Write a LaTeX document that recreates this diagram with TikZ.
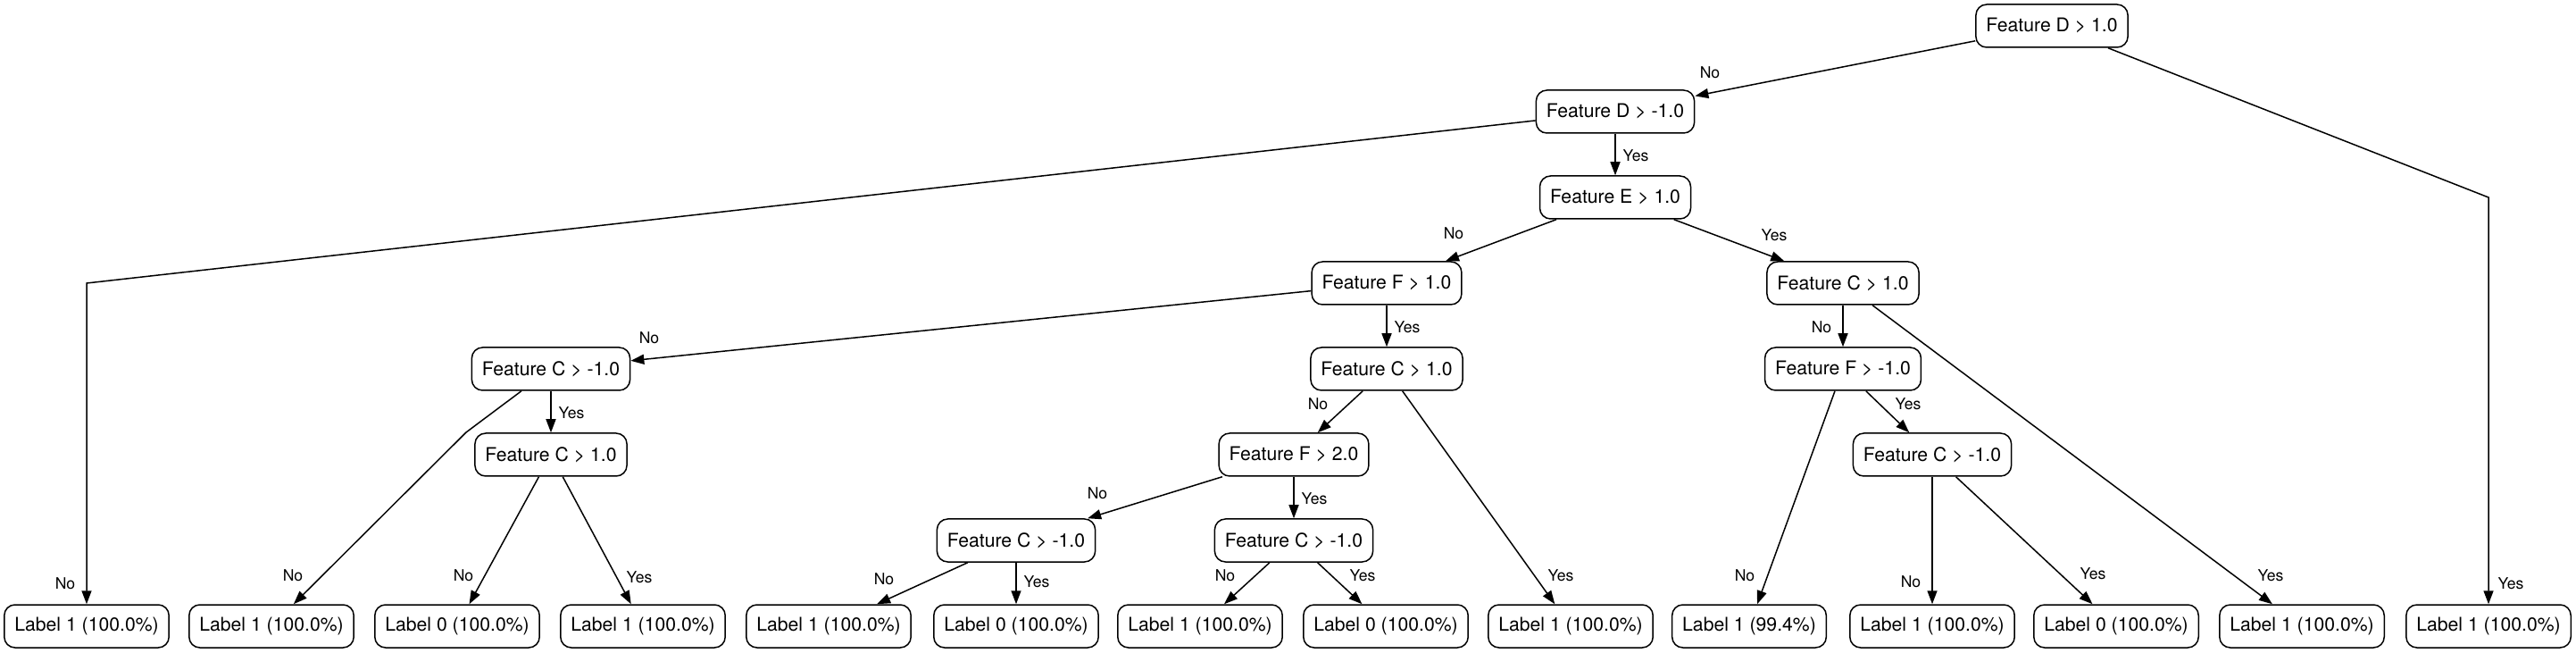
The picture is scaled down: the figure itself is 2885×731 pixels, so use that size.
\documentclass[tikz,border=0pt]{standalone}
\usepackage{fontspec}
\setmainfont{TeX Gyre Heros}
\usetikzlibrary{arrows.meta}
\begin{document}
\begin{tikzpicture}[x=0.5pt,y=-0.5pt,
  box/.style={draw, line width=0.75pt, rounded corners=6pt, minimum height=24pt, inner xsep=5.75pt, inner ysep=0pt, font=\fontsize{10.6}{12}\selectfont},
  edge/.style={line width=0.75pt, -{Triangle[length=7.5pt,width=5.5pt]}},
  lbl/.style={font=\fontsize{8.8}{10}\selectfont, inner sep=0pt}]
\useasboundingbox (0,0) rectangle (2885,731);
% internal nodes
\node[box] (r)   at (2298,29)  {Feature D > 1.0};
\node[box] (d1)  at (1809,125) {Feature D > -1.0};
\node[box] (e)   at (1809,221) {Feature E > 1.0};
\node[box] (f1)  at (1553,317) {Feature F > 1.0};
\node[box] (c1r) at (2064,317) {Feature C > 1.0};
\node[box] (c4a) at (617,413)  {Feature C > -1.0};
\node[box] (c4b) at (1553,413) {Feature C > 1.0};
\node[box] (f4)  at (2064,413) {Feature F > -1.0};
\node[box] (c5a) at (617,509)  {Feature C > 1.0};
\node[box] (f5)  at (1449,509) {Feature F > 2.0};
\node[box] (c5b) at (2164,509) {Feature C > -1.0};
\node[box] (c6a) at (1138,605) {Feature C > -1.0};
\node[box] (c6b) at (1449,605) {Feature C > -1.0};
% leaves
\node[box] (l1)  at (97,701)   {Label 1 (100.0\%)};
\node[box] (l2)  at (304,701)  {Label 1 (100.0\%)};
\node[box] (l3)  at (512,701)  {Label 0 (100.0\%)};
\node[box] (l4)  at (720,701)  {Label 1 (100.0\%)};
\node[box] (l5)  at (928,701)  {Label 1 (100.0\%)};
\node[box] (l6)  at (1138,701) {Label 0 (100.0\%)};
\node[box] (l7)  at (1344,701) {Label 1 (100.0\%)};
\node[box] (l8)  at (1552,701) {Label 0 (100.0\%)};
\node[box] (l9)  at (1759,701) {Label 1 (100.0\%)};
\node[box] (l10) at (1959,701) {Label 1 (99.4\%)};
\node[box] (l11) at (2164,701) {Label 1 (100.0\%)};
\node[box] (l12) at (2370,701) {Label 0 (100.0\%)};
\node[box] (l13) at (2578,701) {Label 1 (100.0\%)};
\node[box] (l14) at (2787,701) {Label 1 (100.0\%)};
% bend points
\coordinate (k1) at (97,317);
\coordinate (k2) at (522,484);
\coordinate (k14) at (2787,221);
% edges
\draw[edge] (r) -- (d1);
\draw[edge] (r) -- (k14) -- (l14);
\draw[edge] (d1) -- (k1) -- (l1);
\draw[edge] (d1) -- (e);
\draw[edge] (e) -- (f1);
\draw[edge] (e) -- (c1r);
\draw[edge] (f1) -- (c4a);
\draw[edge] (f1) -- (c4b);
\draw[edge] (c4a) -- (k2) -- (l2);
\draw[edge] (c4a) -- (c5a);
\draw[edge] (c5a) -- (l3);
\draw[edge] (c5a) -- (l4);
\draw[edge] (c4b) -- (f5);
\draw[edge] (c4b) -- (l9);
\draw[edge] (f5) -- (c6a);
\draw[edge] (f5) -- (c6b);
\draw[edge] (c6a) -- (l5);
\draw[edge] (c6a) -- (l6);
\draw[edge] (c6b) -- (l7);
\draw[edge] (c6b) -- (l8);
\draw[edge] (c1r) -- (f4);
\draw[edge] (c1r) -- (l13);
\draw[edge] (f4) -- (l10);
\draw[edge] (f4) -- (c5b);
\draw[edge] (c5b) -- (l11);
\draw[edge] (c5b) -- (l12);
% edge labels
\node[lbl] (t1)  at (1915,81)  {No};
\node[lbl] (t2)  at (2812,653) {Yes};
\node[lbl] (t3)  at (73,653)   {No};
\node[lbl] (t4)  at (1832,174) {Yes};
\node[lbl] (t5)  at (1628,261) {No};
\node[lbl] (t6)  at (1987,263) {Yes};
\node[lbl] (t7)  at (727,378)  {No};
\node[lbl] (t8)  at (1576,366) {Yes};
\node[lbl] (t9)  at (328,644)  {No};
\node[lbl] (t10) at (640,462)  {Yes};
\node[lbl] (t11) at (519,644)  {No};
\node[lbl] (t12) at (716,646)  {Yes};
\node[lbl] (t13) at (1476,452) {No};
\node[lbl] (t14) at (1748,644) {Yes};
\node[lbl] (t15) at (1229,552) {No};
\node[lbl] (t16) at (1472,558) {Yes};
\node[lbl] (t17) at (990,648)  {No};
\node[lbl] (t18) at (1161,651) {Yes};
\node[lbl] (t19) at (1372,644) {No};
\node[lbl] (t20) at (1526,644) {Yes};
\node[lbl] (t21) at (2040,366) {No};
\node[lbl] (t22) at (2543,644) {Yes};
\node[lbl] (t23) at (1954,644) {No};
\node[lbl] (t24) at (2137,452) {Yes};
\node[lbl] (t25) at (2140,651) {No};
\node[lbl] (t26) at (2344,642) {Yes};
\end{tikzpicture}
\end{document}
